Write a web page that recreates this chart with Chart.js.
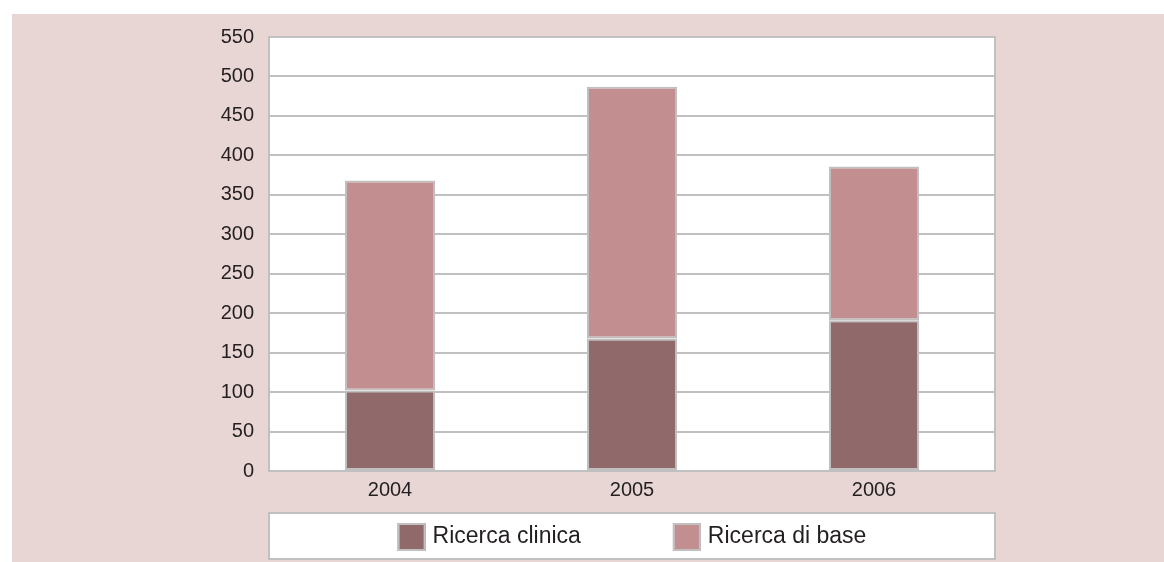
<!DOCTYPE html>
<html>
<head>
<meta charset="utf-8">
<script src="https://cdn.jsdelivr.net/npm/chart.js@4/dist/chart.umd.min.js"></script>
<style>
  html, body { margin: 0; padding: 0; background: #ffffff; }
  #wrap { position: relative; width: 1164px; height: 562px; }
</style>
</head>
<body>
<div id="wrap"><canvas id="chart" width="1164" height="562"></canvas></div>
<script>
// Research funding by year, split into clinical and basic research
const years = ['2004', '2005', '2006'];
const clinicalResearch = [102, 168, 191];
const basicResearch = [266, 319, 195];
const seriesLabels = ['Ricerca clinica', 'Ricerca di base'];
const yTicks = [0, 50, 100, 150, 200, 250, 300, 350, 400, 450, 500, 550];

const FONT = '"Liberation Sans", Arial, Helvetica, sans-serif';
const PANEL = '#e8d6d5';
const GRID = '#c0c0c0';
const TEXT = '#231f20';

// Panel background, white plot area with its outline
const backdrop = {
  id: 'backdrop',
  beforeDraw(chart) {
    const { ctx, chartArea: a } = chart;
    ctx.save();
    ctx.fillStyle = PANEL;
    ctx.fillRect(12, 14, chart.width - 12, chart.height - 14);
    ctx.fillStyle = '#ffffff';
    ctx.fillRect(a.left, a.top, a.right - a.left, a.bottom - a.top);
    ctx.strokeStyle = GRID;
    ctx.lineWidth = 2;
    ctx.strokeRect(a.left, a.top, a.right - a.left, a.bottom - a.top);
    ctx.restore();
  }
};

// Boxed legend under the plot, centred on the plot area
const boxedLegend = {
  id: 'boxedLegend',
  afterDraw(chart) {
    const { ctx, chartArea: a } = chart;
    const top = 513, bottom = 559;
    ctx.save();
    ctx.fillStyle = '#ffffff';
    ctx.fillRect(a.left, top, a.right - a.left, bottom - top);
    ctx.strokeStyle = GRID;
    ctx.lineWidth = 2;
    ctx.strokeRect(a.left, top, a.right - a.left, bottom - top);

    ctx.font = '23px ' + FONT;
    const sw = 28, gapText = 7, gapItem = 92;
    const items = chart.data.datasets.map(ds => ({
      label: ds.label, color: ds.backgroundColor, w: ctx.measureText(ds.label).width
    }));
    const total = items.reduce((s, it) => s + sw + gapText + it.w, 0) + gapItem * (items.length - 1);
    let x = (a.left + a.right) / 2 - total / 2;
    const sy = 523;
    items.forEach(it => {
      ctx.fillStyle = it.color;
      ctx.fillRect(x, sy, sw, sw);
      ctx.strokeStyle = GRID;
      ctx.lineWidth = 2;
      ctx.strokeRect(x + 1, sy + 1, sw - 2, sw - 2);
      ctx.fillStyle = TEXT;
      ctx.textBaseline = 'middle';
      ctx.textAlign = 'left';
      ctx.fillText(it.label, x + sw + gapText, sy + sw / 2);
      x += sw + gapText + it.w + gapItem;
    });
    ctx.restore();
  }
};

new Chart(document.getElementById('chart'), {
  type: 'bar',
  data: {
    labels: years,
    datasets: [
      {
        label: seriesLabels[0],
        data: clinicalResearch,
        backgroundColor: '#906a6a',
        borderColor: GRID,
        borderWidth: 2,
        borderSkipped: false
      },
      {
        label: seriesLabels[1],
        data: basicResearch,
        backgroundColor: '#c28e8f',
        borderColor: GRID,
        borderWidth: 2,
        borderSkipped: false
      }
    ]
  },
  options: {
    responsive: false,
    animation: false,
    devicePixelRatio: 1,
    layout: { padding: { left: 12, top: 37, right: 169, bottom: 0 } },
    datasets: { bar: { categoryPercentage: 1, barPercentage: 0.372 } },
    plugins: {
      legend: { display: false },
      tooltip: { enabled: false }
    },
    scales: {
      x: {
        stacked: true,
        grid: { display: false, drawTicks: false },
        border: { display: false },
        ticks: { color: TEXT, font: { family: FONT, size: 20 }, padding: 7 },
        afterFit(scale) { scale.height = 91; }
      },
      y: {
        stacked: true,
        min: 0,
        max: 550,
        afterBuildTicks(scale) { scale.ticks = yTicks.map(v => ({ value: v })); },
        grid: { color: GRID, lineWidth: 2, drawTicks: false },
        border: { display: false },
        ticks: { color: TEXT, font: { family: FONT, size: 20 }, padding: 15 },
        afterFit(scale) { scale.width = 257; }
      }
    }
  },
  plugins: [backdrop, boxedLegend]
});
</script>
</body>
</html>
